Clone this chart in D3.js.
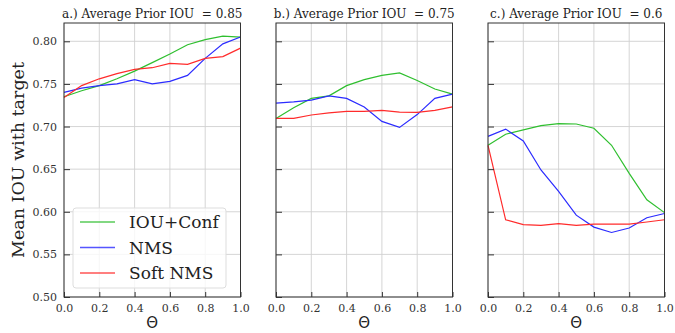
<!DOCTYPE html>
<html><head><meta charset="utf-8">
<script src="https://cdn.jsdelivr.net/npm/d3@7"></script>
<style>body{margin:0;background:#fff}svg{display:block}</style>
</head><body>
<svg id="c" width="675" height="333"></svg>
<script>
const theta = [0,0.1,0.2,0.3,0.4,0.5,0.6,0.7,0.8,0.9,1.0];
const xTicks = [0,0.2,0.4,0.6,0.8,1.0];
const yTicks = [0.50,0.55,0.60,0.65,0.70,0.75,0.80];
const seriesNames = ["IOU+Conf","NMS","Soft NMS"];
const titles = ["a.) Average Prior IOU  = 0.85","b.) Average Prior IOU  = 0.75","c.) Average Prior IOU  = 0.6"];
// panel a
const aConf = [0.735,0.742,0.748,0.756,0.765,0.775,0.785,0.796,0.802,0.806,0.805];
const aNMS  = [0.740,0.745,0.748,0.750,0.755,0.750,0.753,0.760,0.780,0.797,0.805];
const aSoft = [0.734,0.748,0.756,0.762,0.767,0.769,0.774,0.773,0.780,0.782,0.792];
// panel b
const bConf = [0.7095,0.722,0.733,0.736,0.748,0.755,0.760,0.763,0.754,0.744,0.738];
const bNMS  = [0.7275,0.729,0.731,0.736,0.733,0.723,0.706,0.699,0.714,0.733,0.738];
const bSoft = [0.7095,0.7095,0.7135,0.716,0.7177,0.7177,0.719,0.717,0.7165,0.719,0.723];
// panel c
const cConf = [0.678,0.691,0.696,0.701,0.7035,0.703,0.698,0.678,0.645,0.614,0.599];
const cNMS  = [0.6885,0.697,0.683,0.649,0.624,0.596,0.582,0.5757,0.581,0.593,0.598];
const cSoft = [0.678,0.5906,0.585,0.584,0.586,0.584,0.5855,0.5855,0.5855,0.588,0.5906];

(function(){
const panels = [[aConf,aNMS,aSoft],[bConf,bNMS,bSoft],[cConf,cNMS,cSoft]];
const colors = ["#2fbf2f","#2b2bff","#ff2b2b"];
const lefts = [64,276,488];
const pw = 176.5, pTop = 23, pBottom = 297;
const serif = "'DejaVu Serif', serif";
const svg = d3.select("#c");
const y = d3.scaleLinear().domain([0.50,0.80]).range([pBottom, 41.3]);

panels.forEach((series, i) => {
  const x = d3.scaleLinear().domain([0,1]).range([lefts[i], lefts[i]+pw]);
  const g = svg.append("g");
  g.selectAll(".gx").data(xTicks).join("line")
    .attr("x1", d=>x(d)).attr("x2", d=>x(d)).attr("y1", pTop).attr("y2", pBottom)
    .attr("stroke", "#d0d0d0").attr("stroke-width", 0.9);
  g.selectAll(".gy").data(yTicks).join("line")
    .attr("y1", d=>y(d)).attr("y2", d=>y(d)).attr("x1", lefts[i]).attr("x2", lefts[i]+pw)
    .attr("stroke", "#d0d0d0").attr("stroke-width", 0.9);
  series.forEach((vals, k) => {
    g.append("path").datum(vals)
      .attr("fill","none").attr("stroke", colors[k]).attr("stroke-width", 1.2)
      .attr("d", d3.line().x((d,j)=>x(theta[j])).y(d=>y(d)));
  });
  g.append("rect").attr("x", lefts[i]).attr("y", pTop).attr("width", pw).attr("height", pBottom-pTop)
    .attr("fill","none").attr("stroke","#333").attr("stroke-width",1);
  const ax = d3.axisBottom(x).tickValues(xTicks).tickSize(-5).tickPadding(7).tickFormat(d3.format(".1f"));
  const xa = g.append("g").attr("transform", `translate(0,${pBottom})`).call(ax);
  const ay = d3.axisLeft(y).tickValues(yTicks).tickSize(-6).tickPadding(7).tickFormat(i===0 ? d3.format(".2f") : () => "");
  const ya = g.append("g").attr("transform", `translate(${lefts[i]},0)`).call(ay);
  [xa, ya].forEach(a => {
    a.select(".domain").remove();
    a.selectAll(".tick line").attr("stroke","#333");
    a.selectAll("text").attr("font-family", serif).attr("font-size", 11).attr("fill","#333");
  });
  g.append("text").attr("x", lefts[i]+pw/2).attr("y", 18).attr("text-anchor","middle")
    .style("white-space","pre")
    .attr("font-family", serif).attr("font-size", 12).attr("fill","#222").text(titles[i]);
  g.append("text").attr("x", lefts[i]+pw/2).attr("y", 328).attr("text-anchor","middle")
    .attr("font-family","'DejaVu Sans', sans-serif").attr("font-size", 15).attr("fill","#222").text("Θ");
});

svg.append("text").attr("transform", "translate(24,160) rotate(-90)").attr("text-anchor","middle")
  .attr("font-family", serif).attr("font-size", 17.5).attr("fill","#222").text("Mean IOU with target");

const lg = svg.append("g");
lg.append("rect").attr("x", 73).attr("y", 208).attr("width", 153).attr("height", 80).attr("rx", 3)
  .attr("fill","rgba(255,255,255,0.8)").attr("stroke","#ddd");
seriesNames.forEach((n, k) => {
  const yy = 222 + k*25.5;
  lg.append("line").attr("x1", 80).attr("x2", 115).attr("y1", yy).attr("y2", yy)
    .attr("stroke", colors[k]).attr("stroke-width", 1.4).attr("opacity",0.8);
  lg.append("text").attr("x", 129).attr("y", yy+6).attr("font-family", serif).attr("font-size", 17)
    .attr("fill","#222").text(n);
});
})();
</script>
</body></html>
